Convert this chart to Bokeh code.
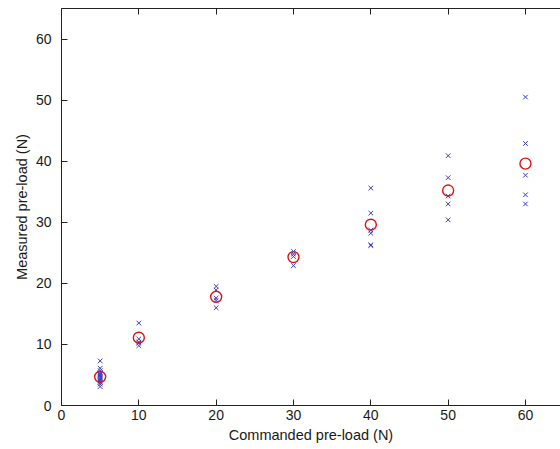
from bokeh.plotting import figure
from bokeh.models import LinearAxis, Range1d, FixedTicker, ColumnDataSource
from bokeh.embed import file_html
from bokeh.resources import INLINE

# ---- data ----
commanded = [5, 10, 20, 30, 40, 50, 60]
meas_5 = [7.3, 6.1, 5.7, 5.4, 5.2, 5.0, 4.8, 4.6, 4.4, 4.2, 4.0, 3.8, 3.5, 3.1]
meas_10 = [13.5, 10.9, 10.4, 10.2, 9.8]
meas_20 = [19.5, 18.9, 17.6, 17.2, 16.0]
meas_30 = [25.2, 24.8, 24.4, 22.9]
meas_40 = [35.6, 31.5, 28.7, 28.2, 26.3, 26.2]
meas_50 = [40.9, 37.3, 34.3, 33.0, 30.4]
meas_60 = [50.5, 42.9, 37.7, 34.5, 33.0]
mean_meas = [4.7, 11.1, 17.8, 24.3, 29.6, 35.2, 39.6]
x_ticks = [0, 10, 20, 30, 40, 50, 60]
y_ticks = [0, 10, 20, 30, 40, 50, 60]

groups = [meas_5, meas_10, meas_20, meas_30, meas_40, meas_50, meas_60]
xs, ys = [], []
for c, g in zip(commanded, groups):
    xs += [c] * len(g)
    ys += g

FONT = "Liberation Sans"
TXT = "#1a1a1a"

p = figure(width=560, height=449,
           x_range=Range1d(0, 64.53), y_range=Range1d(0, 65),
           output_backend="svg", toolbar_location=None,
           min_border_left=61, min_border_right=0, min_border_top=8, min_border_bottom=44,
           x_axis_label="Commanded pre-load (N)", y_axis_label="Measured pre-load (N)")
p.outline_line_color = None
p.xgrid.visible = False
p.ygrid.visible = False
p.background_fill_color = "white"
p.border_fill_color = "white"

src = ColumnDataSource(dict(x=xs, y=ys))
p.scatter("x", "y", source=src, marker="x", size=6.5, line_color="#3a3ac8", line_width=1.0)
p.scatter(commanded, mean_meas, marker="circle", size=11, line_color="#e01010",
          fill_color=None, line_width=1.4)

for ax in (p.xaxis[0], p.yaxis[0]):
    ax.major_tick_in = 6
    ax.major_tick_out = 0
    ax.minor_tick_line_color = None
    ax.axis_line_color = "#222222"
    ax.major_tick_line_color = "#222222"
    ax.major_label_text_font = FONT
    ax.major_label_text_font_size = "14px"
    ax.major_label_text_color = TXT
    ax.axis_label_text_font = FONT
    ax.axis_label_text_font_size = "14.5px"
    ax.axis_label_text_font_style = "normal"
    ax.axis_label_text_color = TXT

p.xaxis[0].ticker = FixedTicker(ticks=x_ticks)
p.yaxis[0].ticker = FixedTicker(ticks=y_ticks)
p.xaxis[0].major_label_standoff = 4
p.xaxis[0].axis_label_standoff = 4
p.yaxis[0].major_label_standoff = 10
p.yaxis[0].axis_label_standoff = 3

top = LinearAxis(ticker=FixedTicker(ticks=x_ticks))
top.major_tick_in = 6
top.major_tick_out = 0
top.minor_tick_line_color = None
top.major_label_overrides = {t: "" for t in x_ticks}
top.major_label_text_font_size = "1px"
top.major_label_standoff = 0
top.axis_line_color = "#222222"
top.major_tick_line_color = "#222222"
p.add_layout(top, "above")

open("out.html", "w").write(file_html(p, INLINE))
